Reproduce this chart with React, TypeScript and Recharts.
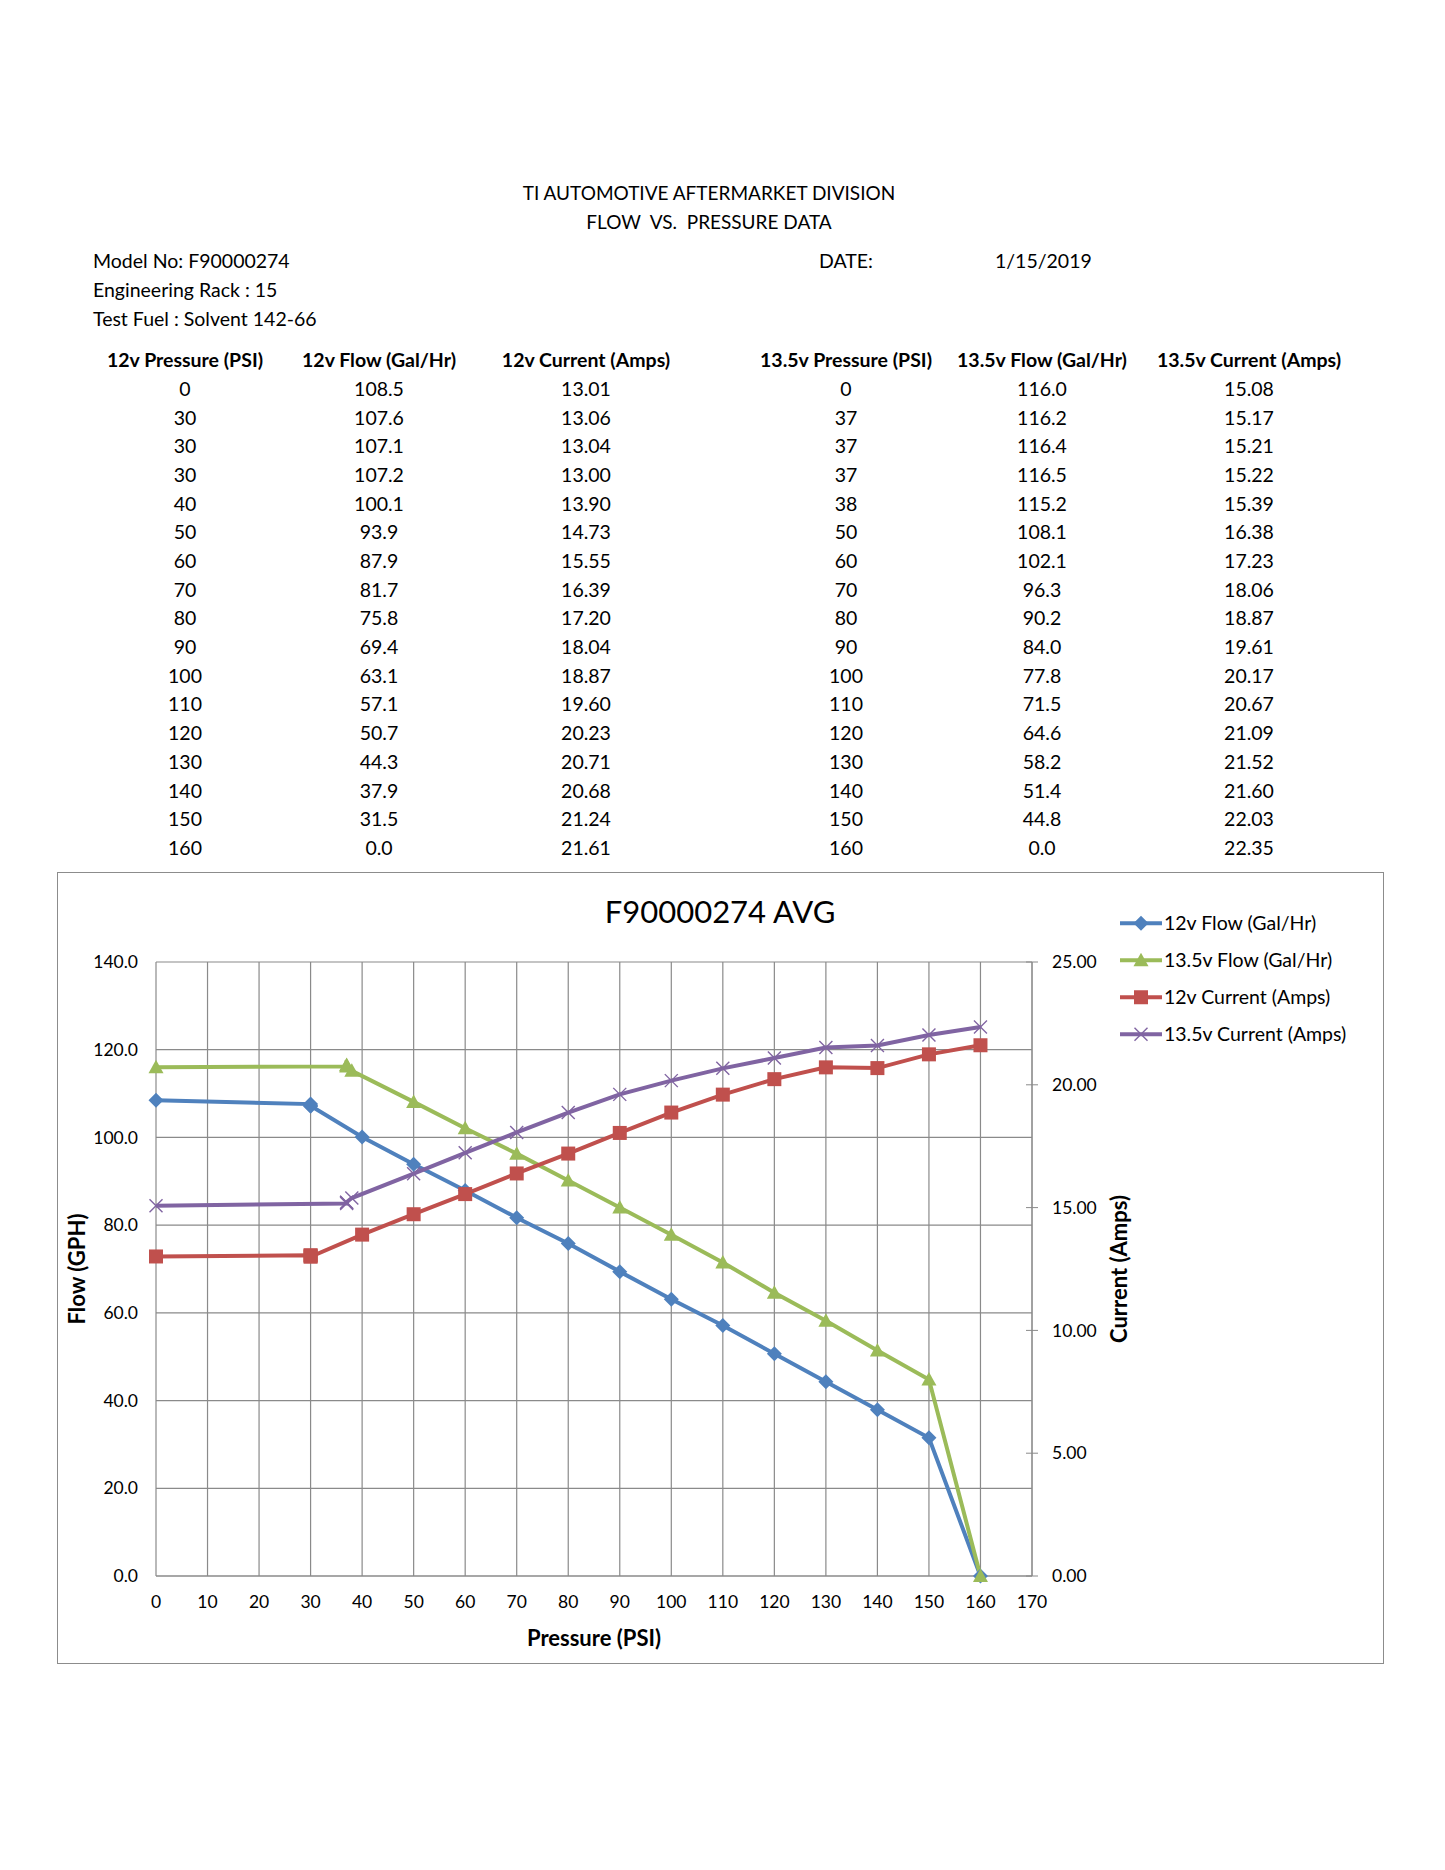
import React from 'react';
import { LineChart, Line, XAxis, YAxis, CartesianGrid, Label } from 'recharts';

// table / chart data
const pressure12 = [0, 30, 30, 30, 40, 50, 60, 70, 80, 90, 100, 110, 120, 130, 140, 150, 160];
const flow12 = [108.5, 107.6, 107.1, 107.2, 100.1, 93.9, 87.9, 81.7, 75.8, 69.4, 63.1, 57.1, 50.7, 44.3, 37.9, 31.5, 0.0];
const amps12 = [13.01, 13.06, 13.04, 13.0, 13.9, 14.73, 15.55, 16.39, 17.2, 18.04, 18.87, 19.6, 20.23, 20.71, 20.68, 21.24, 21.61];
const pressure135 = [0, 37, 37, 37, 38, 50, 60, 70, 80, 90, 100, 110, 120, 130, 140, 150, 160];
const flow135 = [116.0, 116.2, 116.4, 116.5, 115.2, 108.1, 102.1, 96.3, 90.2, 84.0, 77.8, 71.5, 64.6, 58.2, 51.4, 44.8, 0.0];
const amps135 = [15.08, 15.17, 15.21, 15.22, 15.39, 16.38, 17.23, 18.06, 18.87, 19.61, 20.17, 20.67, 21.09, 21.52, 21.6, 22.03, 22.35];

const tableHeaders = [
  '12v Pressure (PSI)',
  '12v Flow (Gal/Hr)',
  '12v Current (Amps)',
  '13.5v Pressure (PSI)',
  '13.5v Flow (Gal/Hr)',
  '13.5v Current (Amps)',
];

const pressureTicks = [0, 10, 20, 30, 40, 50, 60, 70, 80, 90, 100, 110, 120, 130, 140, 150, 160, 170];
const flowTicks = [0, 20, 40, 60, 80, 100, 120, 140];
const ampTicks = [0, 5, 10, 15, 20, 25];

const BLUE = '#4F81BD';
const GREEN = '#9BBB59';
const RED = '#C0504D';
const PURPLE = '#8064A2';
const GRID = '#8a8a8a';
const FONT = 'Lato, "Noto Sans", sans-serif';
const LINE_W = 4;

const colX = [185, 379, 586, 846, 1042, 1249];
const rowY0 = 389;
const rowStep = 28.68;

const series12Flow = pressure12.map((p, i) => ({ p, v: flow12[i] }));
const series135Flow = pressure135.map((p, i) => ({ p, v: flow135[i] }));
const series12Amps = pressure12.map((p, i) => ({ p, v: amps12[i] }));
const series135Amps = pressure135.map((p, i) => ({ p, v: amps135[i] }));

type Shape = 'diamond' | 'triangle' | 'square' | 'cross';

const Marker = ({ cx, cy, shape, color }: { cx: number; cy: number; shape: Shape; color: string }) => {
  if (cx == null || cy == null) return null;
  if (shape === 'diamond') {
    return <polygon points={`${cx},${cy - 7.5} ${cx + 7.5},${cy} ${cx},${cy + 7.5} ${cx - 7.5},${cy}`} fill={color} />;
  }
  if (shape === 'triangle') {
    return <polygon points={`${cx},${cy - 7.5} ${cx + 7.5},${cy + 6} ${cx - 7.5},${cy + 6}`} fill={color} />;
  }
  if (shape === 'square') {
    return <rect x={cx - 7} y={cy - 7} width={14} height={14} fill={color} />;
  }
  return (
    <g stroke={color} strokeWidth={1.4}>
      <line x1={cx - 6.5} y1={cy - 6.5} x2={cx + 6.5} y2={cy + 6.5} />
      <line x1={cx - 6.5} y1={cy + 6.5} x2={cx + 6.5} y2={cy - 6.5} />
    </g>
  );
};

const dotFor = (shape: Shape, color: string) => (props: any) => (
  <Marker key={`${shape}-${props.index}`} cx={props.cx} cy={props.cy} shape={shape} color={color} />
);

const RightTick = (props: any) => {
  const { x, y, payload } = props;
  return (
    <g>
      <line x1={x - 6} y1={y} x2={x + 6} y2={y} stroke={GRID} strokeWidth={1} />
      <text x={x + 20} y={y} dy="0.355em" textAnchor="start" fontSize={17.5} fontFamily={FONT} fill="#000">
        {Number(payload.value).toFixed(2)}
      </text>
    </g>
  );
};

const legendItems: { name: string; color: string; shape: Shape }[] = [
  { name: '12v Flow (Gal/Hr)', color: BLUE, shape: 'diamond' },
  { name: '13.5v Flow (Gal/Hr)', color: GREEN, shape: 'triangle' },
  { name: '12v Current (Amps)', color: RED, shape: 'square' },
  { name: '13.5v Current (Amps)', color: PURPLE, shape: 'cross' },
];

const abs = (left: number, top: number, extra: React.CSSProperties = {}): React.CSSProperties => ({
  position: 'absolute',
  left,
  top,
  lineHeight: 1,
  whiteSpace: 'pre',
  ...extra,
});

const axisTitle = (text: string, dx: number, dy: number, rotate: boolean) => (props: any) => {
  const vb = props.viewBox;
  const cx = rotate ? vb.x + dx : vb.x + vb.width / 2;
  const cy = rotate ? vb.y + vb.height / 2 : vb.y + dy;
  return (
    <text
      x={cx}
      y={cy}
      transform={rotate ? `rotate(-90, ${cx}, ${cy})` : undefined}
      textAnchor="middle"
      dominantBaseline="central"
      fontSize={22}
      fontWeight={700}
      fontFamily={FONT}
      fill="#000"
    >
      {text}
    </text>
  );
};

const App = () => {
  const centered = { transform: 'translate(-50%, -50%)' };
  const leftMid = { transform: 'translate(0, -50%)' };

  return (
    <div
      style={{
        position: 'absolute',
        left: 0,
        top: 0,
        width: 1445,
        height: 1870,
        background: '#fff',
        fontFamily: FONT,
        fontSize: 19.5,
        color: '#000',
      }}
    >
      {/* sheet header */}
      <div style={abs(709, 192, { ...centered, fontSize: 19 })}>TI AUTOMOTIVE AFTERMARKET DIVISION</div>
      <div style={abs(709, 221, { ...centered, fontSize: 19 })}>FLOW  VS.  PRESSURE DATA</div>
      <div style={abs(93, 261, leftMid)}>Model No: F90000274</div>
      <div style={abs(93, 290, leftMid)}>Engineering Rack : 15</div>
      <div style={abs(93, 319, leftMid)}>Test Fuel : Solvent 142-66</div>
      <div style={abs(819, 261, leftMid)}>DATE:</div>
      <div style={abs(995, 261, leftMid)}>1/15/2019</div>

      {/* table */}
      {tableHeaders.map((h, i) => (
        <div key={h} style={abs(colX[i], 360, { ...centered, fontWeight: 700 })}>
          {h}
        </div>
      ))}
      {pressure12.map((p, r) => {
        const cells = [
          String(p),
          flow12[r].toFixed(1),
          amps12[r].toFixed(2),
          String(pressure135[r]),
          flow135[r].toFixed(1),
          amps135[r].toFixed(2),
        ];
        return cells.map((c, i) => (
          <div key={`${r}-${i}`} style={abs(colX[i], rowY0 + r * rowStep, centered)}>
            {c}
          </div>
        ));
      })}

      {/* chart box */}
      <div
        style={{
          position: 'absolute',
          left: 57,
          top: 872,
          width: 1325,
          height: 790,
          border: '1px solid #8c8c8c',
        }}
      >
        <div style={abs(662, 38, { ...centered, fontSize: 31 })}>F90000274 AVG</div>

        <LineChart width={1325} height={790} margin={{ top: 89, right: 231, bottom: 0, left: 0 }}>
          <CartesianGrid yAxisId="flow" xAxisId="p" stroke={GRID} strokeWidth={1.2} horizontal vertical />
          <XAxis
            xAxisId="p"
            dataKey="p"
            type="number"
            domain={[0, 170]}
            ticks={pressureTicks}
            interval={0}
            height={87}
            tickSize={0}
            tickMargin={20}
            axisLine={{ stroke: GRID }}
            tick={{ fontSize: 17.5, fontFamily: FONT, fill: '#000' }}
          >
            <Label content={axisTitle('Pressure (PSI)', 0, 61, false)} />
          </XAxis>
          <YAxis
            yAxisId="flow"
            orientation="left"
            width={98}
            domain={[0, 140]}
            ticks={flowTicks}
            interval={0}
            tickSize={0}
            tickMargin={18}
            axisLine={false}
            tickFormatter={(v: number) => v.toFixed(1)}
            tick={{ fontSize: 17.5, fontFamily: FONT, fill: '#000' }}
          >
            <Label content={axisTitle('Flow (GPH)', 18, 0, true)} />
          </YAxis>
          <YAxis
            yAxisId="amps"
            orientation="right"
            width={120}
            domain={[0, 25]}
            ticks={ampTicks}
            interval={0}
            tickSize={0}
            tickMargin={0}
            tickLine={false}
            axisLine={{ stroke: GRID }}
            tick={<RightTick />}
          >
            <Label content={axisTitle('Current (Amps)', 86, 0, true)} />
          </YAxis>

          <Line
            xAxisId="p"
            yAxisId="flow"
            data={series12Flow}
            dataKey="v"
            name="12v Flow (Gal/Hr)"
            type="linear"
            stroke={BLUE}
            strokeWidth={LINE_W}
            dot={dotFor('diamond', BLUE)}
            isAnimationActive={false}
          />
          <Line
            xAxisId="p"
            yAxisId="flow"
            data={series135Flow}
            dataKey="v"
            name="13.5v Flow (Gal/Hr)"
            type="linear"
            stroke={GREEN}
            strokeWidth={LINE_W}
            dot={dotFor('triangle', GREEN)}
            isAnimationActive={false}
          />
          <Line
            xAxisId="p"
            yAxisId="amps"
            data={series12Amps}
            dataKey="v"
            name="12v Current (Amps)"
            type="linear"
            stroke={RED}
            strokeWidth={LINE_W}
            dot={dotFor('square', RED)}
            isAnimationActive={false}
          />
          <Line
            xAxisId="p"
            yAxisId="amps"
            data={series135Amps}
            dataKey="v"
            name="13.5v Current (Amps)"
            type="linear"
            stroke={PURPLE}
            strokeWidth={LINE_W}
            dot={dotFor('cross', PURPLE)}
            isAnimationActive={false}
          />
        </LineChart>

        {/* legend */}
        {legendItems.map((it, i) => (
          <div key={it.name} style={abs(1062, 50 + i * 37, { ...leftMid, display: 'flex', alignItems: 'center' })}>
            <svg width={44} height={18} style={{ display: 'block' }}>
              <line x1={0} y1={9} x2={42} y2={9} stroke={it.color} strokeWidth={LINE_W} />
              <Marker cx={21} cy={9} shape={it.shape} color={it.color} />
            </svg>
            <span style={{ fontSize: 19.5 }}>{it.name}</span>
          </div>
        ))}
      </div>
    </div>
  );
};

export default App;
